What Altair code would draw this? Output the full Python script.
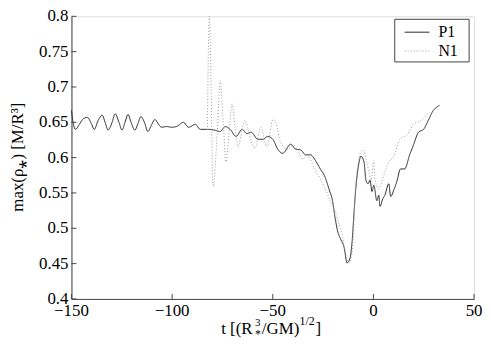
import altair as alt
import pandas as pd

# ---- data ----
series_names = ["P1", "N1"]

p1_t = [-150.0, -149.0, -148.0, -146.1, -144.1, -142.1, -140.1, -138.7, -136.7, -134.7,
        -133.3, -131.8, -129.8, -128.3, -126.4, -124.9, -123.4, -121.9, -120.4, -118.5,
        -117.0, -115.5, -113.5, -112.1, -110.1, -108.6, -106.7, -105.2, -102.7, -100.2,
        -97.8, -94.3, -91.9, -88.4, -86.0, -82.0, -79.1, -76.1, -73.6, -71.2,
        -68.2, -65.3, -62.8, -60.8, -57.4, -54.9, -52.5, -50.0, -47.5, -45.1,
        -41.1, -38.7, -36.2, -33.7, -31.3, -28.8, -26.4, -24.4, -21.9, -20.4,
        -19.0, -17.5, -16.5, -14.5, -13.1, -11.6, -10.6, -9.6, -8.6, -7.1,
        -6.2, -4.7, -3.7, -2.7, -1.7, -0.7, 0.2, 1.7, 2.7, 3.2,
        4.7, 5.7, 7.6, 8.6, 10.1, 11.6, 13.5, 15.5, 18.0, 19.9,
        22.4, 24.9, 27.3, 29.8, 31.3, 32.8]
p1_v = [0.667, 0.647, 0.640, 0.647, 0.655, 0.657, 0.648, 0.640, 0.653, 0.660,
        0.650, 0.639, 0.650, 0.662, 0.650, 0.639, 0.650, 0.661, 0.650, 0.639,
        0.648, 0.658, 0.648, 0.637, 0.647, 0.654, 0.647, 0.643, 0.644, 0.643,
        0.644, 0.650, 0.643, 0.647, 0.640, 0.640, 0.639, 0.637, 0.644, 0.640,
        0.630, 0.640, 0.634, 0.636, 0.626, 0.626, 0.630, 0.626, 0.612, 0.606,
        0.619, 0.612, 0.611, 0.604, 0.604, 0.596, 0.584, 0.575, 0.554, 0.540,
        0.514, 0.493, 0.486, 0.472, 0.451, 0.458, 0.481, 0.524, 0.561, 0.594,
        0.602, 0.594, 0.568, 0.563, 0.568, 0.552, 0.561, 0.539, 0.547, 0.531,
        0.542, 0.547, 0.563, 0.545, 0.554, 0.566, 0.584, 0.584, 0.604, 0.618,
        0.636, 0.640, 0.653, 0.667, 0.671, 0.674]

n1_t = [-82.5, -81.5, -79.6, -77.6, -76.1, -74.6, -73.2, -71.7, -70.2, -68.7,
        -67.2, -65.3, -63.8, -61.3, -58.9, -55.9, -52.9, -49.9, -48.5, -46.1,
        -42.6, -39.7, -37.7, -35.2, -32.8, -29.3, -26.4, -23.9, -21.4, -19.0,
        -17.5, -15.5, -14.0, -12.1, -11.1, -9.6, -9.1, -7.6, -6.7, -4.7,
        -4.2, -2.2, -1.2, 0.2, 0.7, 2.7, 4.2, 5.7, 7.6, 10.1,
        13.1, 16.5, 20.0, 23.9, 26.4, 27.8]
n1_v = [0.639, 0.800, 0.559, 0.636, 0.709, 0.650, 0.594, 0.636, 0.676, 0.643,
        0.615, 0.639, 0.653, 0.629, 0.613, 0.643, 0.615, 0.654, 0.650, 0.622,
        0.612, 0.618, 0.611, 0.598, 0.604, 0.584, 0.570, 0.556, 0.538, 0.524,
        0.509, 0.491, 0.467, 0.451, 0.458, 0.509, 0.547, 0.589, 0.605, 0.611,
        0.604, 0.580, 0.566, 0.596, 0.570, 0.556, 0.566, 0.580, 0.594, 0.601,
        0.626, 0.632, 0.647, 0.653, 0.660, 0.664]

x_ticks = [-150, -100, -50, 0, 50]
x_labels = ["\u2212150", "\u2212100", "\u221250", "0", "50"]
y_ticks = [0.4, 0.45, 0.5, 0.55, 0.6, 0.65, 0.7, 0.75, 0.8]
y_labels = ["0.4", "0.45", "0.5", "0.55", "0.6", "0.65", "0.7", "0.75", "0.8"]

# ---- styling ----
FONT = "Liberation Serif"
AXIS_COLOR = "#444444"
colors = ["#2b2b2b", "#9a9a9a"]
dashes = [[1, 0], [1, 2]]
W, H = 406, 285

df = pd.concat([
    pd.DataFrame({"t": p1_t, "v": p1_v, "s": series_names[0]}),
    pd.DataFrame({"t": n1_t, "v": n1_v, "s": series_names[1]}),
])

xs = alt.Scale(domain=[-150, 50], nice=False, zero=False)
ys = alt.Scale(domain=[0.4, 0.8], nice=False, zero=False)

x_axis = alt.Axis(values=x_ticks, title="", tickSize=0, labels=False, grid=False,
                  domainColor=AXIS_COLOR)
y_axis = alt.Axis(values=y_ticks, title="", tickSize=0, labels=False, grid=False,
                  domainColor=AXIS_COLOR)

lines = alt.Chart(df).mark_line(strokeWidth=1, interpolate="monotone").encode(
    x=alt.X("t:Q", scale=xs, axis=x_axis),
    y=alt.Y("v:Q", scale=ys, axis=y_axis),
    color=alt.Color("s:N", scale=alt.Scale(domain=series_names, range=colors), legend=None),
    strokeDash=alt.StrokeDash("s:N", scale=alt.Scale(domain=series_names, range=dashes), legend=None),
    detail="s:N",
)

xdf = pd.DataFrame({"t": x_ticks, "lab": x_labels})
ydf = pd.DataFrame({"v": y_ticks, "lab": y_labels})

xt = alt.Chart(xdf).mark_rule(color=AXIS_COLOR, strokeWidth=1).encode(
    x=alt.X("t:Q", scale=xs), y=alt.value(H), y2=alt.value(H - 5))
yt = alt.Chart(ydf).mark_rule(color=AXIS_COLOR, strokeWidth=1).encode(
    y=alt.Y("v:Q", scale=ys), x=alt.value(0), x2=alt.value(5))

xl = alt.Chart(xdf).mark_text(align="center", baseline="top", font=FONT, fontSize=17,
                              color="black").encode(
    x=alt.X("t:Q", scale=xs), y=alt.value(H + 4), text="lab:N")
yl = alt.Chart(ydf).mark_text(align="right", baseline="middle", font=FONT, fontSize=17,
                              color="black").encode(
    y=alt.Y("v:Q", scale=ys), x=alt.value(-3), text="lab:N")

one = alt.Chart(pd.DataFrame({"a": [0]}))

# legend (drawn by hand)
leg_box = one.mark_rect(fill="white", stroke=AXIS_COLOR, strokeWidth=1).encode(
    x=alt.value(326), x2=alt.value(401), y=alt.value(3), y2=alt.value(46))
leg_l1 = one.mark_rule(color=colors[0], strokeWidth=1).encode(
    x=alt.value(336), x2=alt.value(361), y=alt.value(16))
leg_l2 = one.mark_rule(color=colors[1], strokeWidth=1, strokeDash=dashes[1]).encode(
    x=alt.value(336), x2=alt.value(361), y=alt.value(35))
leg_t1 = one.mark_text(align="left", baseline="alphabetic", font=FONT, fontSize=16, color="black").encode(
    x=alt.value(370), y=alt.value(21), text=alt.value(series_names[0]))
leg_t2 = one.mark_text(align="left", baseline="alphabetic", font=FONT, fontSize=16, color="black").encode(
    x=alt.value(370), y=alt.value(40), text=alt.value(series_names[1]))

# axis titles (text pieces for sub/superscripts)
def txt(s, x, y, size=17, angle=0, align="left"):
    return one.mark_text(align=align, baseline="alphabetic", font=FONT, fontSize=size,
                         color="black", angle=angle).encode(
        x=alt.value(x), y=alt.value(y), text=alt.value(s))

xtitle = [
    txt("t [(R", 151, 320),
    txt("3", 185, 312, size=11),
    txt("*", 185, 324, size=12),
    txt("/GM)", 192, 320),
    txt("1/2", 230, 311, size=12),
    txt("]", 246, 320),
]
ytitle = one.mark_text(align="center", baseline="middle", font=FONT, fontSize=17,
                       color="black", angle=270).encode(
    x=alt.value(-54), y=alt.value(142), text=alt.value("max(ρ⁎) [M/R³]"))

chart = alt.layer(lines, xt, yt, xl, yl, leg_box, leg_l1, leg_l2, leg_t1, leg_t2,
                  ytitle, *xtitle).properties(
    width=W, height=H,
    autosize=alt.AutoSizeParams(type="none"),
    padding={"left": 64, "top": 7, "right": 9, "bottom": 38},
).configure_view(stroke=None).configure(background="white")

chart.save("out.html", embed_options={"renderer": "svg", "actions": False})
